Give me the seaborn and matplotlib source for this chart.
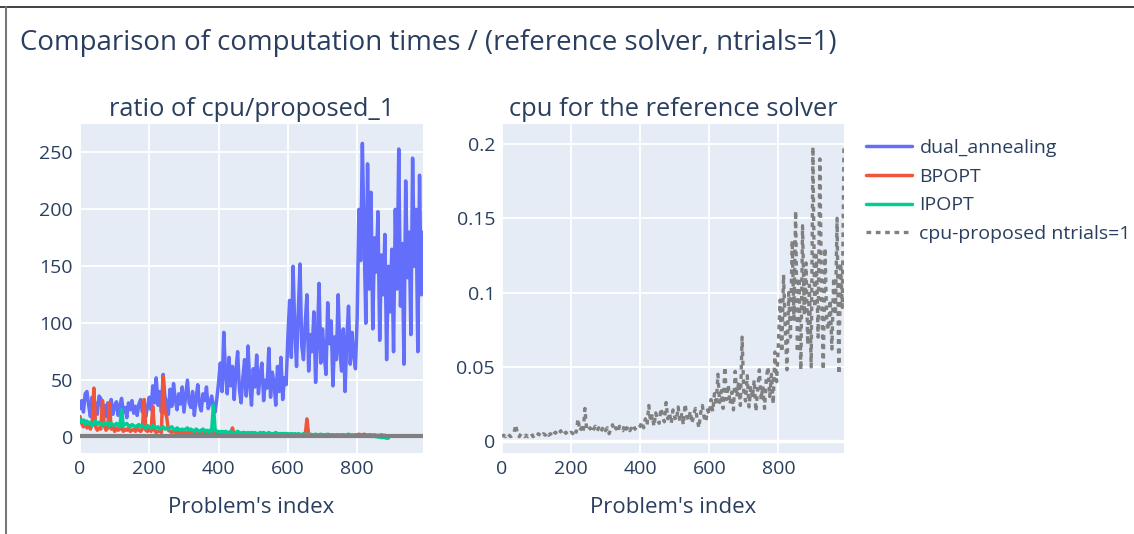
import numpy as np
import pandas as pd
import matplotlib.pyplot as plt
from matplotlib.lines import Line2D
import seaborn as sns

# valeurs (un point tous les 5 indices)
step = 5

dual_annealing = [
    25, 32, 22, 38, 40, 28, 18, 35, 24, 30, 20, 36, 34, 22, 28, 18, 30, 26, 33, 20,
    27, 31, 19, 28, 34, 22, 26, 17, 30, 24, 32, 21, 27, 19, 29, 33, 22, 30, 18, 27,
    35, 24, 45, 30, 52, 28, 40, 22, 55, 36, 30, 20, 42, 27, 47, 33, 24, 38, 29, 44,
    22, 36, 50, 30, 26, 40, 19, 34, 46, 28, 23, 38, 32, 44, 25, 30, 36, 27, 22, 34,
    48, 65, 40, 92, 55, 38, 70, 45, 62, 33, 58, 75, 42, 30, 52, 68, 36, 80, 47, 28,
    60, 44, 72, 38, 55, 65, 32, 50, 43, 78, 35, 57, 48, 28, 62, 40, 70, 33, 52, 46,
    88, 120, 70, 150, 95, 62, 110, 152, 80, 68, 100, 125, 58, 90, 75, 110, 48, 85, 135, 65,
    95, 72, 55, 118, 82, 102, 45, 88, 68, 125, 76, 58, 95, 40, 85, 115, 64, 92, 72, 60,
    105, 200, 155, 258, 175, 100, 240, 130, 215, 95, 175, 145, 198, 85, 160, 125, 178, 68, 150, 110,
    165, 75, 200, 130, 253, 115, 170, 64, 225, 140, 180, 90, 245, 150, 200, 75, 230, 125, 180,
]

bpopt = [
    18, 12, 9, 14, 8, 10, 7, 11, 43, 9, 6, 8, 7, 32, 10, 6, 8, 30, 7, 9,
    5, 8, 6, 7, 9, 5, 7, 6, 8, 5, 6, 7, 5, 8, 6, 5, 7, 33, 6, 5,
    7, 5, 27, 6, 4, 5, 6, 4, 53, 22, 18, 6, 5, 4, 6, 4, 5, 3, 5, 4,
    6, 3, 4, 5, 3, 4, 5, 3, 4, 3, 5, 3, 4, 3, 4, 5, 3, 4, 3, 4,
    3, 4, 3, 2, 3, 4, 2, 3, 8, 2, 3, 2, 3, 2, 3, 2, 2, 3, 2, 3,
    2, 2, 3, 2, 2, 3, 2, 2, 2, 3, 2, 2, 2, 2, 3, 2, 2, 2, 2, 2,
    2, 2, 1.5, 2, 2, 1.5, 2, 1.5, 2, 2, 1.5, 16, 2, 1.5, 2, 1.5, 1.5, 2, 1.5, 1.5,
    2, 1.5, 1.5, 1.5, 2, 1.5, 1.5, 1.5, 1.5, 2, 1.5, 1.5, 1.5, 1.5, 1.5, 1.5, 1.5, 1.5, 1.5, 1.5,
    2, 2.5, 2, 2, 2.5, 2, 1.5, 2, 2, 1.5, 2, 1.5, 1.5, 1.5, 2, 1.5, 1.5, 1, 1,
]

ipopt = [
    16, 13, 15, 11, 14, 12, 13, 10, 12, 14, 11, 13, 12, 10, 12, 11, 13, 10, 12, 11,
    10, 12, 11, 9, 24, 10, 11, 12, 10, 9, 11, 10, 9, 10, 11, 9, 10, 9, 8, 10,
    9, 8, 10, 9, 8, 9, 7, 8, 9, 7, 8, 7, 8, 9, 7, 6, 8, 7, 6, 7,
    6, 7, 8, 6, 7, 6, 5, 7, 6, 5, 6, 7, 5, 6, 5, 6, 5, 28, 6, 5,
    5, 4, 5, 4, 5, 4, 4, 5, 4, 3, 4, 5, 4, 3, 4, 4, 3, 4, 3, 4,
    3, 4, 3, 3, 4, 3, 4, 3, 3, 4, 3, 3, 3, 4, 3, 3, 3, 3, 3, 3,
    3, 2.5, 3, 2.5, 3, 2, 3, 2.5, 2, 3, 2, 2.5, 2, 2.5, 2, 2, 2.5, 2, 2, 2.5,
    2, 2, 2, 2.5, 2, 2, 2, 1.5, 2, 2, 1.5, 2, 2, 1.5, 2, 2.5, 1.5, 2, 1.5, 2,
    1.5, 1.5, 1, 1.5, 1, 1, 1.5, 1, 0.5, 1, 0.5, 0.5, 0, 0.5, -0.5, 0, -0.5, -1, -1,
]

# ratio du solveur proposé sur lui-même
proposed_ratio = [1.0] * len(dual_annealing)

cpu_proposed = [
    0.003, 0.004, 0.003, 0.005, 0.004, 0.003, 0.004, 0.006, 0.011, 0.004,
    0.003, 0.005, 0.004, 0.003, 0.004, 0.003, 0.004, 0.005, 0.003, 0.004,
    0.003, 0.005, 0.004, 0.003, 0.005, 0.004, 0.006, 0.004, 0.005, 0.003,
    0.005, 0.006, 0.004, 0.005, 0.007, 0.004, 0.005, 0.006, 0.004, 0.005,
    0.006, 0.005, 0.008, 0.006, 0.015, 0.007, 0.009, 0.006, 0.022, 0.008,
    0.007, 0.009, 0.006, 0.008, 0.010, 0.007, 0.009, 0.006, 0.008, 0.010,
    0.007, 0.009, 0.005, 0.008, 0.011, 0.007, 0.009, 0.006, 0.010, 0.008,
    0.007, 0.011, 0.008, 0.010, 0.007, 0.009, 0.011, 0.008, 0.010, 0.009,
    0.010, 0.013, 0.009, 0.015, 0.011, 0.024, 0.013, 0.017, 0.010, 0.019,
    0.014, 0.012, 0.022, 0.016, 0.013, 0.026, 0.015, 0.019, 0.012, 0.021,
    0.016, 0.014, 0.023, 0.013, 0.018, 0.011, 0.025, 0.017, 0.014, 0.020,
    0.012, 0.018, 0.022, 0.015, 0.009, 0.019, 0.024, 0.016, 0.013, 0.021,
    0.018, 0.028, 0.020, 0.032, 0.024, 0.045, 0.026, 0.034, 0.022, 0.050,
    0.028, 0.038, 0.025, 0.033, 0.021, 0.047, 0.030, 0.040, 0.024, 0.070,
    0.032, 0.027, 0.044, 0.023, 0.036, 0.029, 0.041, 0.020, 0.034, 0.048,
    0.028, 0.037, 0.022, 0.042, 0.050, 0.030, 0.045, 0.025, 0.060, 0.040,
    0.065, 0.095, 0.060, 0.112, 0.075, 0.048, 0.100, 0.070, 0.135, 0.082,
    0.155, 0.060, 0.110, 0.048, 0.145, 0.085, 0.120, 0.065, 0.105, 0.050,
    0.198, 0.090, 0.125, 0.070, 0.190, 0.100, 0.048, 0.130, 0.080, 0.075,
    0.095, 0.062, 0.110, 0.085, 0.150, 0.045, 0.120, 0.090, 0.200,
]

x_ticks = [0, 200, 400, 600, 800]
y_ticks_ratio = [0, 50, 100, 150, 200, 250]
y_ticks_cpu = [0, 0.05, 0.1, 0.15, 0.2]
y_ticklabels_cpu = ["0", "0.05", "0.1", "0.15", "0.2"]


def indices(vals):
    return np.arange(len(vals)) * step


TXT = "#2a3f5f"
sns.set_theme(style="darkgrid", rc={
    "axes.facecolor": "#E5ECF6",
    "grid.color": "white",
    "grid.linewidth": 1.3,
    "axes.edgecolor": "#E5ECF6",
    "xtick.color": TXT,
    "ytick.color": TXT,
    "axes.labelcolor": TXT,
    "text.color": TXT,
})
plt.rcParams["font.family"] = ["Open Sans", "DejaVu Sans"]

W, H = 1134, 534
fig = plt.figure(figsize=(W / 100, H / 100), dpi=100)
ax1 = fig.add_axes([80 / W, 1 - 453 / H, 343 / W, 329 / H])
ax2 = fig.add_axes([502 / W, 1 - 453 / H, 342 / W, 329 / H])

# --- graphique de gauche : ratios
sns.lineplot(x=indices(dual_annealing), y=dual_annealing, ax=ax1, color="#636efa",
             lw=2.5, label="dual_annealing", legend=False)
sns.lineplot(x=indices(bpopt), y=bpopt, ax=ax1, color="#EF553B", lw=2.5,
             label="BPOPT", legend=False)
sns.lineplot(x=indices(ipopt), y=ipopt, ax=ax1, color="#00cc96", lw=2.5,
             label="IPOPT", legend=False)
sns.lineplot(x=indices(proposed_ratio), y=proposed_ratio, ax=ax1, color="grey",
             lw=3, legend=False)
ax1.set_xlim(0, 990)
ax1.set_ylim(-14, 275)
ax1.set_yticks(y_ticks_ratio)
ax1.set_title("ratio of cpu/proposed_1", fontsize=18.4, color=TXT, pad=6)

# --- graphique de droite : cpu du solveur de référence
ax2.axhline(0, color="white", lw=2.5, zorder=1)
sns.lineplot(x=indices(cpu_proposed), y=cpu_proposed, ax=ax2, color="grey", lw=2.4,
             ls=(0, (1.4, 1.4)), label="cpu-proposed ntrials=1", legend=False)
ax2.set_xlim(0, 990)
ax2.set_ylim(-0.008, 0.2135)
ax2.set_yticks(y_ticks_cpu)
ax2.set_yticklabels(y_ticklabels_cpu)
ax2.set_title("cpu for the reference solver", fontsize=18.4, color=TXT, pad=6)

for ax in (ax1, ax2):
    ax.set_xticks(x_ticks)
    ax.set_xlabel("Problem's index", fontsize=16, labelpad=14)
    ax.set_ylabel("")
    ax.tick_params(labelsize=14, length=0, pad=5)
    for s in ax.spines.values():
        s.set_visible(False)

fig.text(20 / W, 1 - 43 / H, "Comparison of computation times / (reference solver, ntrials=1)",
         fontsize=19.9, color=TXT, va="center", ha="left")

handles = ax1.get_lines()[:3] + [ax2.get_lines()[-1]]
labels = ["dual_annealing", "BPOPT", "IPOPT", "cpu-proposed ntrials=1"]
fig.legend(handles, labels, loc="upper left", bbox_to_anchor=(866 / W, 1 - 139 / H),
           frameon=False, fontsize=14, handlelength=2.35, handletextpad=0.4,
           labelspacing=0.55, borderpad=0, borderaxespad=0)

# cadre de la capture
fig.add_artist(Line2D([0, 1], [1 - 7 / H, 1 - 7 / H], color="#222222", lw=1.2))
fig.add_artist(Line2D([6 / W, 6 / W], [0, 1 - 7 / H], color="#777777", lw=1.5))

fig.savefig("out.png", dpi=100)
